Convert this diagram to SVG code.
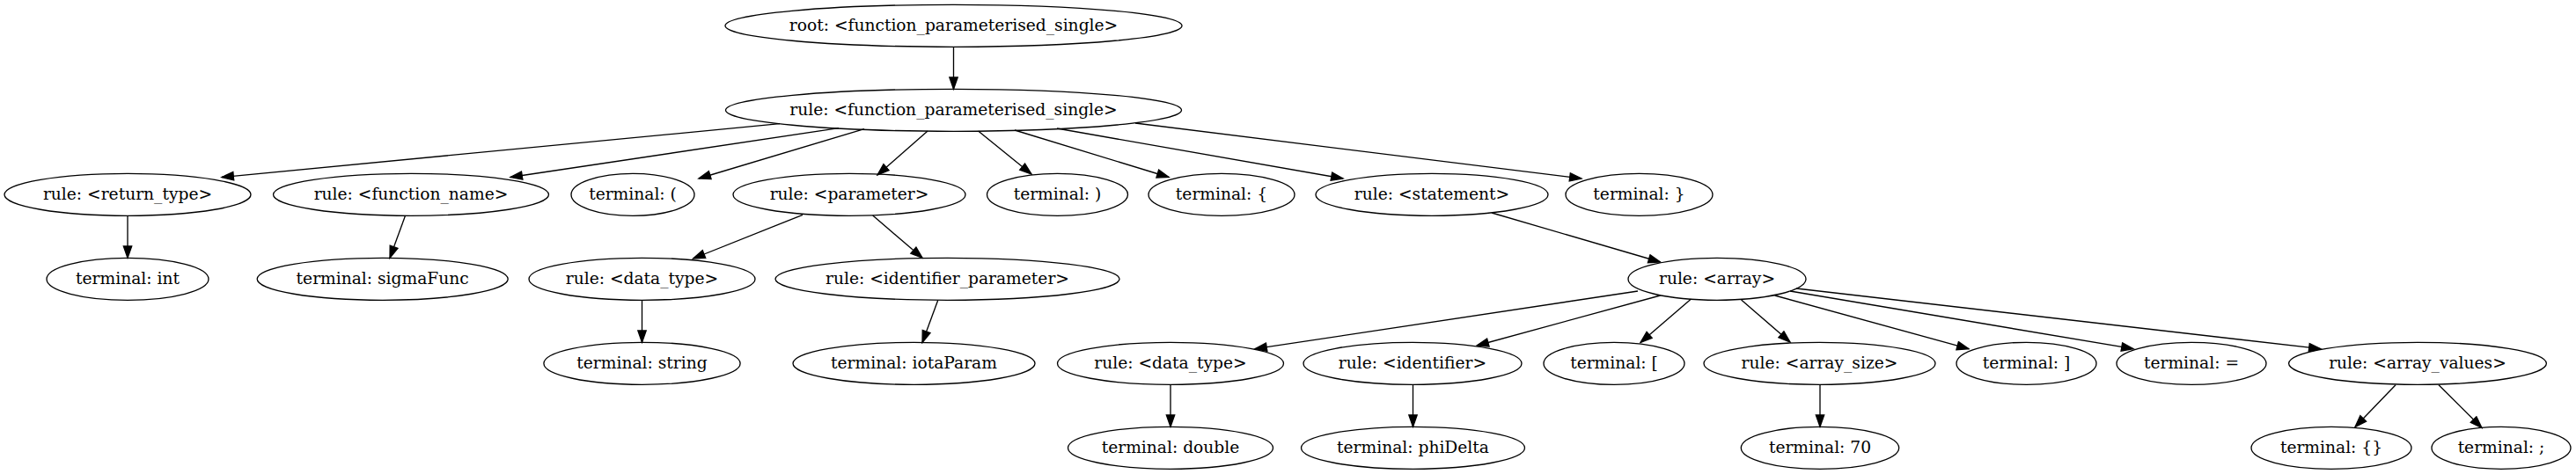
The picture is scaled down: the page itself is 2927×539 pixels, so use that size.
<svg xmlns="http://www.w3.org/2000/svg" width="2927" height="539" viewBox="0 0 2927 539">
<style>
.n ellipse{fill:none;stroke:#000;stroke-width:1.33}
.n text{font-family:"DejaVu Serif",serif;font-size:18.67px;fill:#000;text-anchor:middle}
.e line{stroke:#000;stroke-width:1.33;marker-end:url(#ah)}
</style>
<defs>
<marker id="ah" markerUnits="userSpaceOnUse" markerWidth="16" markerHeight="12" viewBox="-1 -1 16 12" refX="13.33" refY="4.67" orient="auto">
<path d="M0,0 L13.33,4.67 L0,9.33 z" fill="#000" stroke="#000" stroke-width="1.33"/>
</marker>
</defs>
<rect width="2927" height="539" fill="#fff"/>
<g id="connectors" class="e">
<line x1="1083.5" y1="53.3" x2="1083.5" y2="101.3"/>
<line x1="886" y1="140.7" x2="252" y2="201.5"/>
<line x1="953" y1="145.7" x2="580" y2="201.5"/>
<line x1="982" y1="146.7" x2="794" y2="203"/>
<line x1="1054" y1="149" x2="997" y2="199"/>
<line x1="1111.6" y1="149" x2="1172" y2="198"/>
<line x1="1153" y1="148" x2="1328" y2="201.5"/>
<line x1="1201" y1="146" x2="1526" y2="203"/>
<line x1="1290" y1="140" x2="1797" y2="203"/>
<line x1="145" y1="245.3" x2="145" y2="293.3"/>
<line x1="460.5" y1="245.3" x2="443" y2="293.3"/>
<line x1="912" y1="244.3" x2="787.6" y2="294"/>
<line x1="991.7" y1="245" x2="1048" y2="293.3"/>
<line x1="1695" y1="242" x2="1886.5" y2="298"/>
<line x1="729.5" y1="341.3" x2="729.5" y2="389.3"/>
<line x1="1065.7" y1="341.5" x2="1048" y2="389.5"/>
<line x1="1861" y1="331" x2="1426" y2="396.7"/>
<line x1="1886.5" y1="336" x2="1678" y2="393"/>
<line x1="1921.5" y1="340" x2="1864" y2="389.5"/>
<line x1="1978.6" y1="341" x2="2034" y2="389"/>
<line x1="2016.6" y1="336" x2="2237" y2="396.7"/>
<line x1="2034" y1="331" x2="2424" y2="396.7"/>
<line x1="2041" y1="328" x2="2637" y2="396.7"/>
<line x1="1330" y1="437.3" x2="1330" y2="485.3"/>
<line x1="1605.5" y1="437.3" x2="1605.5" y2="485.3"/>
<line x1="2068" y1="437.3" x2="2068" y2="485.3"/>
<line x1="2722" y1="437.7" x2="2676" y2="485.5"/>
<line x1="2771" y1="437.7" x2="2820" y2="486.5"/>
</g>
<g id="n0" class="n"><ellipse cx="1083.5" cy="29.3" rx="259.5" ry="24"/><text x="1083.5" y="34.5">root: &lt;function_parameterised_single&gt;</text></g>
<g id="n1" class="n"><ellipse cx="1083.5" cy="125.3" rx="259" ry="24"/><text x="1083.5" y="130.5">rule: &lt;function_parameterised_single&gt;</text></g>
<g id="n2" class="n"><ellipse cx="145" cy="221.3" rx="140" ry="24"/><text x="145" y="226.5">rule: &lt;return_type&gt;</text></g>
<g id="n3" class="n"><ellipse cx="467" cy="221.3" rx="156.5" ry="24"/><text x="467" y="226.5">rule: &lt;function_name&gt;</text></g>
<g id="n4" class="n"><ellipse cx="719" cy="221.3" rx="70" ry="24"/><text x="719" y="226.5">terminal: (</text></g>
<g id="n5" class="n"><ellipse cx="965" cy="221.3" rx="132" ry="24"/><text x="965" y="226.5">rule: &lt;parameter&gt;</text></g>
<g id="n6" class="n"><ellipse cx="1201.5" cy="221.3" rx="80" ry="24"/><text x="1201.5" y="226.5">terminal: )</text></g>
<g id="n7" class="n"><ellipse cx="1388" cy="221.3" rx="83" ry="24"/><text x="1388" y="226.5">terminal: {</text></g>
<g id="n8" class="n"><ellipse cx="1627" cy="221.3" rx="132" ry="24"/><text x="1627" y="226.5">rule: &lt;statement&gt;</text></g>
<g id="n9" class="n"><ellipse cx="1862.5" cy="221.3" rx="83.5" ry="24"/><text x="1862.5" y="226.5">terminal: }</text></g>
<g id="n10" class="n"><ellipse cx="145" cy="317.3" rx="92" ry="24"/><text x="145" y="322.5">terminal: int</text></g>
<g id="n11" class="n"><ellipse cx="434.7" cy="317.3" rx="142.5" ry="24"/><text x="434.7" y="322.5">terminal: sigmaFunc</text></g>
<g id="n12" class="n"><ellipse cx="729.5" cy="317.3" rx="128.5" ry="24"/><text x="729.5" y="322.5">rule: &lt;data_type&gt;</text></g>
<g id="n13" class="n"><ellipse cx="1076.5" cy="317.3" rx="195.5" ry="24"/><text x="1076.5" y="322.5">rule: &lt;identifier_parameter&gt;</text></g>
<g id="n14" class="n"><ellipse cx="1951" cy="317.3" rx="101" ry="24"/><text x="1951" y="322.5">rule: &lt;array&gt;</text></g>
<g id="n15" class="n"><ellipse cx="729.5" cy="413.3" rx="111.6" ry="24"/><text x="729.5" y="418.5">terminal: string</text></g>
<g id="n16" class="n"><ellipse cx="1038.5" cy="413.3" rx="137.5" ry="24"/><text x="1038.5" y="418.5">terminal: iotaParam</text></g>
<g id="n17" class="n"><ellipse cx="1330" cy="413.3" rx="128.5" ry="24"/><text x="1330" y="418.5">rule: &lt;data_type&gt;</text></g>
<g id="n18" class="n"><ellipse cx="1605" cy="413.3" rx="124" ry="24"/><text x="1605" y="418.5">rule: &lt;identifier&gt;</text></g>
<g id="n19" class="n"><ellipse cx="1834" cy="413.3" rx="80" ry="24"/><text x="1834" y="418.5">terminal: [</text></g>
<g id="n20" class="n"><ellipse cx="2067.5" cy="413.3" rx="131.5" ry="24"/><text x="2067.5" y="418.5">rule: &lt;array_size&gt;</text></g>
<g id="n21" class="n"><ellipse cx="2302.5" cy="413.3" rx="79.5" ry="24"/><text x="2302.5" y="418.5">terminal: ]</text></g>
<g id="n22" class="n"><ellipse cx="2490" cy="413.3" rx="85" ry="24"/><text x="2490" y="418.5">terminal: =</text></g>
<g id="n23" class="n"><ellipse cx="2747" cy="413.3" rx="146.4" ry="24"/><text x="2747" y="418.5">rule: &lt;array_values&gt;</text></g>
<g id="n24" class="n"><ellipse cx="1330" cy="509.3" rx="116.5" ry="24"/><text x="1330" y="514.5">terminal: double</text></g>
<g id="n25" class="n"><ellipse cx="1605.5" cy="509.3" rx="127" ry="24"/><text x="1605.5" y="514.5">terminal: phiDelta</text></g>
<g id="n26" class="n"><ellipse cx="2068" cy="509.3" rx="89.7" ry="24"/><text x="2068" y="514.5">terminal: 70</text></g>
<g id="n27" class="n"><ellipse cx="2649" cy="509.3" rx="91" ry="24"/><text x="2649" y="514.5">terminal: {}</text></g>
<g id="n28" class="n"><ellipse cx="2842" cy="509.3" rx="79" ry="24"/><text x="2842" y="514.5">terminal: ;</text></g>
</svg>
